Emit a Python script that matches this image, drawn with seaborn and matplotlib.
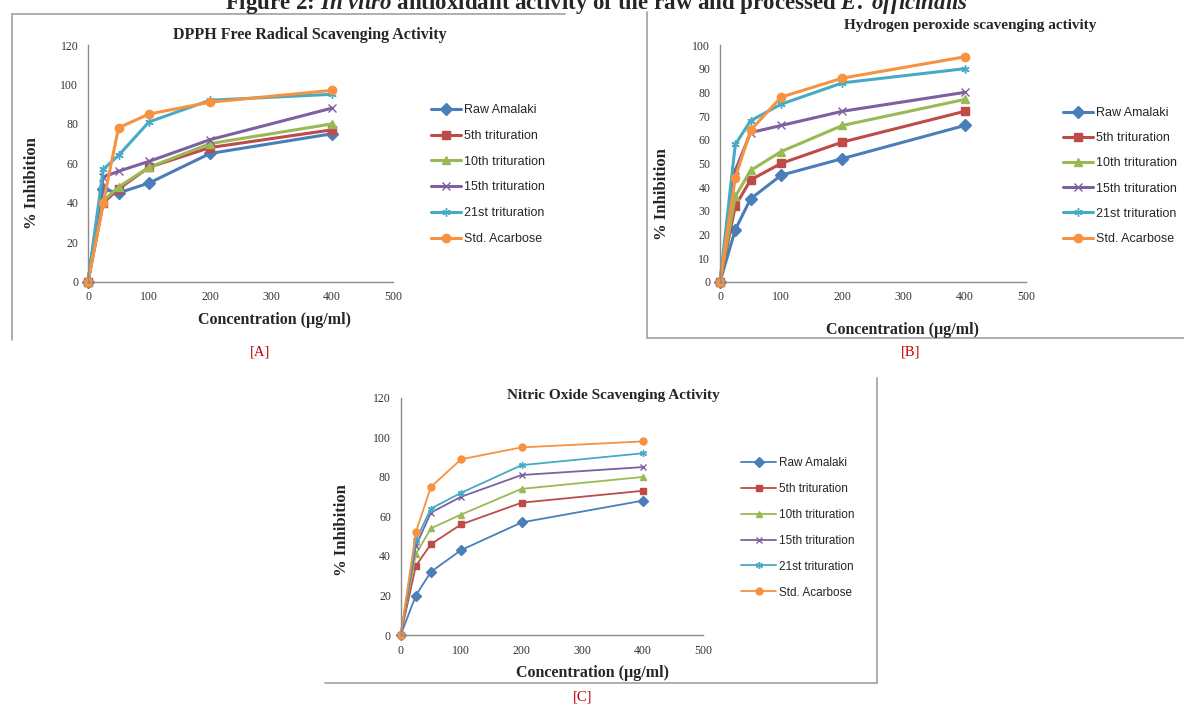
import matplotlib
matplotlib.use("Agg")
import matplotlib.pyplot as plt
from matplotlib.lines import Line2D
import seaborn as sns

# --- data (x = concentration, ug/ml) ---
conc = [0, 25, 50, 100, 200, 400]
series_names = ["Raw Amalaki", "5th trituration", "10th trituration",
                "15th trituration", "21st trituration", "Std. Acarbose"]

dpph_raw = [0, 47, 45, 50, 65, 75]
dpph_5th = [0, 40, 47, 58, 68, 77]
dpph_10th = [0, 41, 48, 58, 70, 80]
dpph_15th = [0, 53, 56, 61, 72, 88]
dpph_21st = [0, 57, 64, 81, 92, 95]
dpph_std = [0, 40, 78, 85, 91, 97]

h2o2_raw = [0, 22, 35, 45, 52, 66]
h2o2_5th = [0, 32, 43, 50, 59, 72]
h2o2_10th = [0, 36, 47, 55, 66, 77]
h2o2_15th = [0, 47, 63, 66, 72, 80]
h2o2_21st = [0, 58, 68, 75, 84, 90]
h2o2_std = [0, 44, 64, 78, 86, 95]

no_raw = [0, 20, 32, 43, 57, 68]
no_5th = [0, 35, 46, 56, 67, 73]
no_10th = [0, 41, 54, 61, 74, 80]
no_15th = [0, 45, 62, 70, 81, 85]
no_21st = [0, 48, 64, 72, 86, 92]
no_std = [0, 52, 75, 89, 95, 98]

x_ticks = [0, 100, 200, 300, 400, 500]

# Excel 2007 look
COLORS = ["#4A7EBB", "#BE4B48", "#98B954", "#7D60A0", "#46AAC5", "#F69240"]
MARKERS = ["D", "s", "^", "x", (6, 2, 0), "o"]

sns.set_style("white")
plt.rcParams["font.family"] = ["Liberation Serif", "DejaVu Serif"]
plt.rcParams["mathtext.fontset"] = "custom"
plt.rcParams["mathtext.rm"] = "Liberation Serif:bold"
plt.rcParams["mathtext.it"] = "Liberation Serif:italic:bold"

W, H = 1184, 706
fig = plt.figure(figsize=(W / 100, H / 100), dpi=100)


def fx(x):
    return x / W


def fy(y):
    return 1 - y / H


def panel(rect_px, data, ymax, ystep, lw, ms, legend_px, leg_size, label_spacing, hlen):
    x0, y_top, x1, y_bot = rect_px
    ax = fig.add_axes([fx(x0), fy(y_bot), fx(x1 - x0), (y_bot - y_top) / H])
    for name, vals, c, m in zip(series_names, data, COLORS, MARKERS):
        sns.lineplot(x=conc, y=vals, color=c, marker=m, lw=lw, ms=ms,
                     markeredgecolor=c, markeredgewidth=1.0, label=name,
                     ax=ax, clip_on=False)
    ax.set_xlim(0, 500)
    ax.set_ylim(0, ymax)
    ax.set_xticks(x_ticks)
    ax.set_yticks(range(0, ymax + 1, ystep))
    ax.set_xlabel("")
    ax.set_ylabel("")
    for s in ["top", "right"]:
        ax.spines[s].set_visible(False)
    for s in ["left", "bottom"]:
        ax.spines[s].set_color("#8C8C8C")
        ax.spines[s].set_linewidth(1.0)
    ax.tick_params(direction="out", length=4, width=0.8, color="#8C8C8C",
                   labelsize=8.5, labelcolor="#333333", pad=3)
    ax.legend(loc="upper left", bbox_to_anchor=(fx(legend_px[0]), fy(legend_px[1])),
              bbox_transform=fig.transFigure, frameon=False, borderpad=0,
              handlelength=hlen, handletextpad=0.2, labelspacing=label_spacing,
              prop={"family": "Liberation Sans", "size": leg_size})
    return ax


panel((88, 45, 393, 281.7),
      [dpph_raw, dpph_5th, dpph_10th, dpph_15th, dpph_21st, dpph_std],
      120, 20, 2.2, 6, (425, 98), 9, 1.1, 2.4)
panel((720, 45, 1026, 281.7),
      [h2o2_raw, h2o2_5th, h2o2_10th, h2o2_15th, h2o2_21st, h2o2_std],
      100, 10, 2.2, 6, (1057, 101), 9, 1.05, 2.4)
panel((400.7, 398, 703, 635),
      [no_raw, no_5th, no_10th, no_15th, no_21st, no_std],
      120, 20, 1.3, 5, (735, 451), 8.5, 1.18, 3.0)

# figure caption (its top is cut off in the reference too)
fig.text(fx(596), fy(4), r"Figure 2: $\mathit{In\ vitro}$ antioxidant activity of the raw "
         r"and processed $\mathit{E.\ officinalis}$",
         ha="center", va="center", fontsize=16.5, fontweight="bold")

# panel titles and axis labels
ttl = dict(fontweight="bold", fontsize=11, ha="center", va="center")
fig.text(fx(310), fy(35), "DPPH Free Radical Scavenging Activity", fontsize=11.5,
         **{k: v for k, v in ttl.items() if k != "fontsize"})
fig.text(fx(970), fy(25), "Hydrogen peroxide scavenging activity", **ttl)
fig.text(fx(613), fy(395), "Nitric Oxide Scavenging Activity", **ttl)

xl = dict(fontweight="bold", fontsize=11.5, ha="center", va="center")
fig.text(fx(275), fy(320), "Concentration (µg/ml)", **xl)
fig.text(fx(902), fy(330), "Concentration (µg/ml)", **xl)
fig.text(fx(593), fy(673), "Concentration (µg/ml)", **xl)

yl = dict(fontweight="bold", fontsize=12, ha="center", va="center", rotation=90)
fig.text(fx(32), fy(183), "% Inhibition", **yl)
fig.text(fx(662), fy(194), "% Inhibition", **yl)
fig.text(fx(342), fy(530), "% Inhibition", **yl)

tag = dict(color="#C00000", fontsize=10.5, ha="center", va="center")
fig.text(fx(260), fy(352), "[A]", **tag)
fig.text(fx(911), fy(352), "[B]", **tag)
fig.text(fx(583), fy(697), "[C]", **tag)

# partial frames around the pasted chart images
frame = [((12, 14), (565, 14)), ((12, 14), (12, 340)),
         ((647, 12), (647, 338)), ((647, 338), (1184, 338)),
         ((325, 683), (877, 683)), ((877, 378), (877, 683))]
for (xa, ya), (xb, yb) in frame:
    fig.add_artist(Line2D([fx(xa), fx(xb)], [fy(ya), fy(yb)],
                          transform=fig.transFigure, color="#A8A8A8", lw=1.3))

fig.savefig("out.png", dpi=100)
